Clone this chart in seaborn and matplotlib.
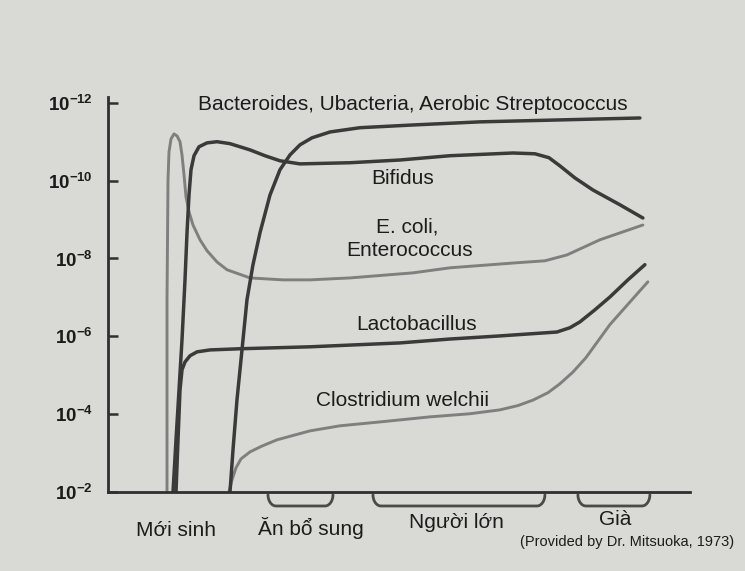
import matplotlib
matplotlib.use("Agg")
import matplotlib.pyplot as plt
import seaborn as sns
import numpy as np
import pandas as pd

# -------------------------
# Data (x: age scale, y: exponent level, label 10^-y)
# -------------------------

ecoli_x = [59, 59, 59, 60, 61, 63, 66, 69, 72, 74, 76, 78, 81, 85, 92, 99, 109, 119,
           142, 175, 202, 242, 305, 342, 409, 437, 459, 492, 535]
ecoli_y = [2.00, 4.37, 6.94, 10.02, 10.74, 11.07, 11.20, 11.15, 11.00, 10.66, 10.15,
           9.58, 9.20, 8.86, 8.48, 8.20, 7.91, 7.71, 7.50, 7.45, 7.45, 7.50, 7.63,
           7.76, 7.89, 7.94, 8.09, 8.48, 8.86]

bifidus_x = [65, 68, 71, 74, 77, 79, 81, 83, 86, 91, 99, 109, 122, 142, 157, 172, 192,
             242, 292, 342, 405, 427, 441, 452, 467, 485, 512, 535]
bifidus_y = [2.00, 3.34, 4.62, 5.91, 7.45, 8.66, 9.63, 10.28, 10.64, 10.87, 10.97,
             11.00, 10.95, 10.79, 10.64, 10.51, 10.43, 10.46, 10.53, 10.64, 10.71,
             10.69, 10.59, 10.38, 10.07, 9.76, 9.38, 9.04]

lacto_x = [68, 70, 72, 74, 77, 82, 89, 102, 132, 202, 292, 342, 392, 449, 462, 472,
           487, 502, 520, 537]
lacto_y = [2.00, 3.34, 4.62, 5.14, 5.34, 5.50, 5.60, 5.65, 5.68, 5.73, 5.83, 5.93,
           6.01, 6.11, 6.22, 6.37, 6.68, 7.01, 7.45, 7.84]

bactero_x = [122, 125, 129, 134, 139, 145, 152, 162, 172, 182, 192, 204, 222, 252,
             305, 372, 452, 532]
bactero_y = [2.00, 3.08, 4.37, 5.65, 6.94, 7.84, 8.66, 9.63, 10.28, 10.66, 10.92,
             11.10, 11.25, 11.36, 11.43, 11.51, 11.56, 11.61]

clostr_x = [121, 124, 128, 133, 142, 154, 169, 202, 232, 272, 322, 362, 392, 410, 425,
            440, 452, 465, 478, 502, 522, 540]
clostr_y = [2.00, 2.31, 2.62, 2.85, 3.03, 3.18, 3.34, 3.57, 3.70, 3.80, 3.93, 4.01,
            4.11, 4.22, 4.36, 4.55, 4.78, 5.08, 5.45, 6.30, 6.88, 7.40]

level_ticks = [2, 4, 6, 8, 10, 12]
level_labels = [r'$\mathbf{10^{-%d}}$' % v for v in level_ticks]

stage_names = ['Mới sinh', 'Ăn bổ sung', 'Người lớn', 'Già']
stage_spans = [None, (160, 225), (265, 437), (470, 542)]

DARK = '#3a3a3a'
LIGHT = '#7f7f7f'
INK = '#1c1c1c'
PAPER = '#d9d9d5'

sns.set_theme(style='white')
plt.rcParams['font.family'] = ['Liberation Sans', 'DejaVu Sans']
plt.rcParams['mathtext.fontset'] = 'custom'
plt.rcParams['mathtext.rm'] = 'Liberation Sans'
plt.rcParams['mathtext.bf'] = 'Liberation Sans:bold'

fig = plt.figure(figsize=(7.45, 5.71), dpi=100, facecolor=PAPER)
ax = fig.add_axes([0.145, 0.1384, 0.781, 0.6918])
ax.set_facecolor(PAPER)

curves = [
    (ecoli_x, ecoli_y, LIGHT, 2.1),
    (clostr_x, clostr_y, LIGHT, 2.1),
    (lacto_x, lacto_y, DARK, 2.5),
    (bifidus_x, bifidus_y, DARK, 2.5),
    (bactero_x, bactero_y, DARK, 2.5),
]

for cx, cy, col, lw in curves:
    df = pd.DataFrame({'x': cx, 'y': cy})
    sns.lineplot(
        data=df, x='x', y='y', ax=ax,
        sort=False, estimator=None,
        color=col, linewidth=lw,
        solid_joinstyle='round', solid_capstyle='round'
    )

ax.set_xlim(0, 582)
ax.set_ylim(2, 12.15)
ax.set_xlabel('')
ax.set_ylabel('')
ax.set_xticks([])
ax.set_yticks(level_ticks)
ax.set_yticklabels(level_labels)
ax.tick_params(axis='y', direction='in', length=7, width=1.8,
               color='#2f2f2f', labelsize=13.5, labelcolor=INK, pad=11, left=True)

for side in ['top', 'right']:
    ax.spines[side].set_visible(False)
for side in ['left', 'bottom']:
    ax.spines[side].set_color('#2f2f2f')
    ax.spines[side].set_linewidth(2.0)

# -------------------------
# Curve labels
# -------------------------

label_kw = dict(ha='center', va='center', color=INK, fontsize=15)
ax.text(305, 11.95, 'Bacteroides, Ubacteria, Aerobic Streptococcus', **label_kw)
ax.text(295, 10.05, 'Bifidus', **label_kw)
ax.text(299, 8.80, 'E. coli,', **label_kw)
ax.text(302, 8.20, 'Enterococcus', **label_kw)
ax.text(309, 6.30, 'Lactobacillus', **label_kw)
ax.text(295, 4.34, 'Clostridium welchii', **label_kw)

# -------------------------
# Life stages under the axis
# -------------------------

stage_pos = [(68, 1.00), (203, 1.08), (349, 1.22), (507, 1.30)]
for name, (sx, sy) in zip(stage_names, stage_pos):
    ax.text(sx, sy, name, ha='center', va='center', color=INK,
            fontsize=15, clip_on=False)

top, bottom = 1.93, 1.64
for span in stage_spans:
    if span is None:
        continue
    x0, x1 = span
    r = 8
    t = np.linspace(0, np.pi / 2, 12)
    left_x = x0 + r * (1 - np.cos(t))
    left_y = bottom + (top - bottom) * (1 - np.sin(t))
    right_x = x1 - r * (1 - np.cos(t[::-1]))
    right_y = bottom + (top - bottom) * (1 - np.sin(t[::-1]))
    bx = np.concatenate([left_x, right_x])
    by = np.concatenate([left_y, right_y])
    ax.plot(bx, by, color='#4a4a4a', linewidth=2.0, clip_on=False,
            solid_capstyle='round')

ax.text(412, 0.71, '(Provided by Dr. Mitsuoka, 1973)', ha='left', va='center',
        color=INK, fontsize=10.5, fontstretch='condensed', clip_on=False)

fig.savefig('out.png', dpi=100, facecolor=PAPER)
